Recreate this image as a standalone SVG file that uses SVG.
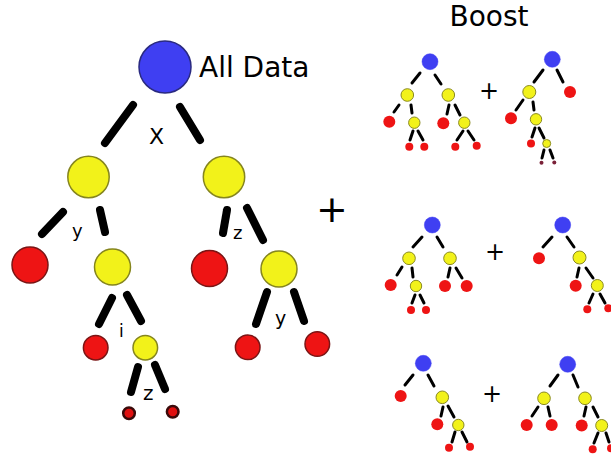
<svg xmlns="http://www.w3.org/2000/svg" width="611" height="458" viewBox="0 0 611 458">
<style>
.e{stroke:#000;stroke-width:8;stroke-linecap:round;fill:none}
.s{stroke:#000;stroke-width:3;stroke-linecap:round;fill:none}
.b{fill:#3f3ff2;stroke:#2a2a80;stroke-width:1.5}
.y{fill:#f2f21a;stroke:#85851e;stroke-width:1.5}
.r{fill:#ee1414;stroke:#7a1515;stroke-width:1.5}
.rt{fill:#e01010;stroke:#3a0a0a;stroke-width:2.5}
.d{fill:#7a2038}
.sb{fill:#3f3ff2;stroke:#3f3ff2;stroke-width:0.5}
.sy{fill:#f2f21a;stroke:#8a8a22;stroke-width:1}
.sr{fill:#ee1414}
text{font-family:"DejaVu Sans","Liberation Sans",sans-serif;fill:#000}
</style>
<rect width="611" height="458" fill="#fff"/>
<g id="connectors">
<line class="e" x1="133" y1="105" x2="105" y2="143"/>
<line class="e" x1="180" y1="107" x2="200" y2="140"/>
<line class="e" x1="63" y1="212" x2="42" y2="234"/>
<line class="e" x1="100" y1="210" x2="105" y2="232"/>
<line class="e" x1="227" y1="210" x2="223" y2="233"/>
<line class="e" x1="247" y1="208" x2="263" y2="240"/>
<line class="e" x1="112" y1="298" x2="99" y2="324"/>
<line class="e" x1="127" y1="295" x2="141" y2="321"/>
<line class="e" x1="138" y1="367" x2="131" y2="392"/>
<line class="e" x1="155" y1="365" x2="165" y2="389"/>
<line class="e" x1="267" y1="292" x2="256" y2="324"/>
<line class="e" x1="294" y1="292" x2="304" y2="321"/>
<!-- tree 1 -->
<line class="s" x1="420" y1="73" x2="412" y2="83"/>
<line class="s" x1="435" y1="75" x2="441" y2="84"/>
<line class="s" x1="399" y1="105" x2="394" y2="112"/>
<line class="s" x1="411" y1="105" x2="412" y2="113"/>
<line class="s" x1="449" y1="105" x2="447" y2="114"/>
<line class="s" x1="455" y1="105" x2="460" y2="115"/>
<line class="s" x1="413" y1="131" x2="410" y2="140"/>
<line class="s" x1="418" y1="131" x2="423" y2="140"/>
<line class="s" x1="463" y1="131" x2="457" y2="140"/>
<line class="s" x1="468" y1="131" x2="474" y2="140"/>
<!-- tree 2 -->
<line class="s" x1="543" y1="70" x2="534" y2="82"/>
<line class="s" x1="557" y1="70" x2="563" y2="82"/>
<line class="s" x1="523" y1="100" x2="516" y2="110"/>
<line class="s" x1="533" y1="102" x2="534" y2="110"/>
<line class="s" x1="535" y1="128" x2="532" y2="137"/>
<line class="s" x1="539" y1="128" x2="544" y2="138"/>
<line class="s" x1="544" y1="150" x2="542" y2="158"/>
<line class="s" x1="550" y1="150" x2="553" y2="158"/>
<!-- tree 3 -->
<line class="s" x1="422" y1="237" x2="413" y2="247"/>
<line class="s" x1="437" y1="237" x2="443" y2="247"/>
<line class="s" x1="402" y1="267" x2="397" y2="275"/>
<line class="s" x1="412" y1="268" x2="413" y2="277"/>
<line class="s" x1="450" y1="268" x2="448" y2="277"/>
<line class="s" x1="456" y1="268" x2="462" y2="278"/>
<line class="s" x1="415" y1="295" x2="412" y2="303"/>
<line class="s" x1="420" y1="295" x2="424" y2="303"/>
<!-- tree 4 -->
<line class="s" x1="552" y1="237" x2="543" y2="247"/>
<line class="s" x1="567" y1="237" x2="574" y2="247"/>
<line class="s" x1="579" y1="268" x2="577" y2="277"/>
<line class="s" x1="586" y1="268" x2="593" y2="278"/>
<line class="s" x1="593" y1="294" x2="589" y2="303"/>
<line class="s" x1="600" y1="294" x2="605" y2="303"/>
<!-- tree 5 -->
<line class="s" x1="413" y1="375" x2="405" y2="385"/>
<line class="s" x1="428" y1="375" x2="434" y2="386"/>
<line class="s" x1="443" y1="407" x2="441" y2="416"/>
<line class="s" x1="448" y1="406" x2="454" y2="417"/>
<line class="s" x1="455" y1="432" x2="452" y2="442"/>
<line class="s" x1="462" y1="432" x2="467" y2="442"/>
<!-- tree 6 -->
<line class="s" x1="558" y1="375" x2="550" y2="386"/>
<line class="s" x1="573" y1="375" x2="578" y2="387"/>
<line class="s" x1="538" y1="407" x2="532" y2="416"/>
<line class="s" x1="548" y1="407" x2="550" y2="416"/>
<line class="s" x1="586" y1="407" x2="584" y2="416"/>
<line class="s" x1="593" y1="407" x2="598" y2="417"/>
<line class="s" x1="598" y1="433" x2="594" y2="443"/>
<line class="s" x1="606" y1="433" x2="609" y2="442"/>
</g>
<g id="main-tree">
<g id="root"><circle class="b" cx="165" cy="67" r="26"/><text x="199" y="77" font-size="28">All Data</text></g>
<g id="n-yl"><circle class="y" cx="88.5" cy="177" r="20.7"/></g>
<g id="n-yr"><circle class="y" cx="224" cy="177" r="20.7"/></g>
<g id="n-r1"><circle class="r" cx="30" cy="265" r="18"/></g>
<g id="n-y2"><circle class="y" cx="112.5" cy="267" r="18"/></g>
<g id="n-r2"><circle class="r" cx="209.5" cy="268.5" r="18"/></g>
<g id="n-y3"><circle class="y" cx="279" cy="269" r="18"/></g>
<g id="n-r3"><circle class="r" cx="95.7" cy="347.7" r="12.3"/></g>
<g id="n-y4"><circle class="y" cx="145.3" cy="347.7" r="12.3"/></g>
<g id="n-r4"><circle class="r" cx="247.7" cy="347.3" r="12.3"/></g>
<g id="n-r5"><circle class="r" cx="317.3" cy="344" r="12.3"/></g>
<g id="n-r6"><circle class="rt" cx="129" cy="413.3" r="5.8"/></g>
<g id="n-r7"><circle class="rt" cx="172.7" cy="411.7" r="5.8"/></g>
<text x="149" y="144" font-size="22">X</text>
<text x="72" y="237" font-size="18">y</text>
<text x="233" y="239" font-size="18">z</text>
<text x="119" y="337" font-size="17">i</text>
<text x="143" y="400" font-size="20">z</text>
<text x="275" y="325" font-size="19">y</text>
<text x="332" y="222" font-size="38" text-anchor="middle">+</text>
</g>
<text x="489" y="26" font-size="28" text-anchor="middle">Boost</text>
<g id="boost-1">
<circle class="sb" cx="430" cy="61.7" r="8"/>
<circle class="sy" cx="407.3" cy="95" r="6.3"/>
<circle class="sy" cx="448.3" cy="95" r="6.3"/>
<circle class="sr" cx="389.3" cy="121.7" r="6"/>
<circle class="sy" cx="414.3" cy="122.7" r="5.7"/>
<circle class="sr" cx="443.3" cy="123.3" r="6"/>
<circle class="sy" cx="464.3" cy="122.7" r="5.7"/>
<circle class="sr" cx="409.3" cy="146.7" r="4"/>
<circle class="sr" cx="424.3" cy="146.7" r="4"/>
<circle class="sr" cx="455.3" cy="146.7" r="4"/>
<circle class="sr" cx="476.7" cy="145.7" r="4"/>
</g>
<text x="489" y="99" font-size="24" text-anchor="middle">+</text>
<g id="boost-2">
<circle class="sb" cx="552.3" cy="59.3" r="8"/>
<circle class="sy" cx="529.3" cy="92" r="6.5"/>
<circle class="sr" cx="570" cy="92" r="6"/>
<circle class="sr" cx="511" cy="118.3" r="6"/>
<circle class="sy" cx="536" cy="119.3" r="5.7"/>
<circle class="sr" cx="531" cy="143.5" r="4"/>
<circle class="sy" cx="546.7" cy="143.5" r="4"/>
<circle class="d" cx="541.5" cy="162.7" r="2"/>
<circle class="d" cx="554.3" cy="162.5" r="2"/>
</g>
<g id="boost-3">
<circle class="sb" cx="432.3" cy="225" r="8"/>
<circle class="sy" cx="409" cy="258.3" r="6.3"/>
<circle class="sy" cx="450" cy="258.3" r="6.3"/>
<circle class="sr" cx="390.7" cy="285" r="6"/>
<circle class="sy" cx="416" cy="286" r="5.7"/>
<circle class="sr" cx="445" cy="286" r="6"/>
<circle class="sr" cx="466.7" cy="286" r="6"/>
<circle class="sr" cx="411" cy="310" r="4"/>
<circle class="sr" cx="426" cy="310" r="4"/>
</g>
<text x="495" y="259.5" font-size="24" text-anchor="middle">+</text>
<g id="boost-4">
<circle class="sb" cx="562.7" cy="225" r="8"/>
<circle class="sr" cx="539" cy="258.3" r="6"/>
<circle class="sy" cx="579.5" cy="257.5" r="6.5"/>
<circle class="sr" cx="575.7" cy="285.7" r="6"/>
<circle class="sy" cx="597.3" cy="285.5" r="6"/>
<circle class="sr" cx="587.3" cy="309.3" r="4"/>
<circle class="sr" cx="608.3" cy="308.3" r="4"/>
</g>
<g id="boost-5">
<circle class="sb" cx="423.3" cy="363.3" r="8"/>
<circle class="sr" cx="400.7" cy="396" r="6"/>
<circle class="sy" cx="442.3" cy="397.3" r="6.3"/>
<circle class="sr" cx="437.3" cy="424.3" r="6"/>
<circle class="sy" cx="458.3" cy="425" r="5.7"/>
<circle class="sr" cx="449" cy="447.7" r="4"/>
<circle class="sr" cx="470" cy="446.7" r="4"/>
</g>
<text x="492" y="401.5" font-size="24" text-anchor="middle">+</text>
<g id="boost-6">
<circle class="sb" cx="567.7" cy="364.3" r="8"/>
<circle class="sy" cx="544" cy="398.3" r="6.3"/>
<circle class="sy" cx="585" cy="398.3" r="6.3"/>
<circle class="sr" cx="526.7" cy="425" r="6"/>
<circle class="sr" cx="551.7" cy="425" r="6"/>
<circle class="sr" cx="581.7" cy="425.5" r="6"/>
<circle class="sy" cx="601.7" cy="425.5" r="6"/>
<circle class="sr" cx="592.7" cy="449.3" r="4"/>
<circle class="sr" cx="611" cy="448.3" r="4"/>
</g>
</svg>
